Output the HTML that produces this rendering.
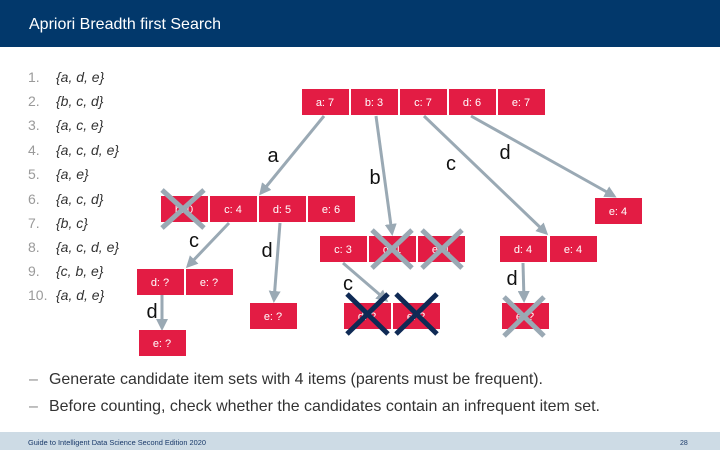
<!DOCTYPE html>
<html><head><meta charset="utf-8"><style>
body{margin:0;width:720px;height:450px;overflow:hidden;background:#fff;font-family:"Liberation Sans",sans-serif}
</style></head><body>
<svg width="720" height="450" viewBox="0 0 720 450" xmlns="http://www.w3.org/2000/svg" font-family="Liberation Sans, sans-serif">
<rect x="0" y="0" width="720" height="47" fill="#02386b"/>
<text x="29" y="29" fill="#fff" font-size="16">Apriori Breadth first Search</text>
<g font-size="14" fill="#9a9a9a">
<text x="28" y="82">1.</text><text x="28" y="106">2.</text><text x="28" y="130">3.</text><text x="28" y="155">4.</text><text x="28" y="179">5.</text><text x="28" y="204">6.</text><text x="28" y="228">7.</text><text x="28" y="252">8.</text><text x="28" y="276">9.</text><text x="28" y="300">10.</text>
</g>
<g font-size="14" fill="#333" font-style="italic">
<text x="56" y="82">{a, d, e}</text><text x="56" y="106">{b, c, d}</text><text x="56" y="130">{a, c, e}</text><text x="56" y="155">{a, c, d, e}</text><text x="56" y="179">{a, e}</text><text x="56" y="204">{a, c, d}</text><text x="56" y="228">{b, c}</text><text x="56" y="252">{a, c, d, e}</text><text x="56" y="276">{c, b, e}</text><text x="56" y="300">{a, d, e}</text>
</g>
<defs><marker id="ar" markerWidth="4" markerHeight="4" refX="3" refY="2" orient="auto"><path d="M0,0 L4,2 L0,4 z" fill="#9aa9b4"/></marker></defs>
<g stroke="#9aa9b4" stroke-width="3" marker-end="url(#ar)">
<line x1="324" y1="116" x2="261" y2="193"/>
<line x1="376" y1="116" x2="392" y2="233"/>
<line x1="424" y1="116" x2="546" y2="233"/>
<line x1="471" y1="116" x2="614" y2="196"/>
<line x1="229" y1="223" x2="188" y2="266"/>
<line x1="280" y1="223" x2="274" y2="300"/>
<line x1="343" y1="263" x2="386" y2="300"/>
<line x1="523" y1="263" x2="524" y2="300"/>
<line x1="162" y1="295" x2="162" y2="328"/>
</g>
<g fill="#e31c44">
<rect x="302" y="89" width="47" height="26"/><rect x="351" y="89" width="47" height="26"/><rect x="400" y="89" width="47" height="26"/><rect x="449" y="89" width="47" height="26"/><rect x="498" y="89" width="47" height="26"/>
<rect x="161" y="196" width="47" height="26"/><rect x="210" y="196" width="47" height="26"/><rect x="259" y="196" width="47" height="26"/><rect x="308" y="196" width="47" height="26"/>
<rect x="595" y="198" width="47" height="26"/>
<rect x="320" y="236" width="47" height="26"/><rect x="369" y="236" width="47" height="26"/><rect x="418" y="236" width="47" height="26"/>
<rect x="500" y="236" width="47" height="26"/><rect x="550" y="236" width="47" height="26"/>
<rect x="137" y="269" width="47" height="26"/><rect x="186" y="269" width="47" height="26"/>
<rect x="250" y="303" width="47" height="26"/>
<rect x="344" y="303" width="47" height="26"/><rect x="393" y="303" width="47" height="26"/>
<rect x="502" y="303" width="47" height="26"/>
<rect x="139" y="330" width="47" height="26"/>
</g>
<g fill="#fff" font-size="11" text-anchor="middle">
<text x="325" y="106">a: 7</text><text x="374" y="106">b: 3</text><text x="423" y="106">c: 7</text><text x="472" y="106">d: 6</text><text x="521" y="106">e: 7</text>
<text x="184" y="213">b: 0</text><text x="233" y="213">c: 4</text><text x="282" y="213">d: 5</text><text x="331" y="213">e: 6</text>
<text x="618" y="215">e: 4</text>
<text x="343" y="253">c: 3</text><text x="392" y="253">d: 1</text><text x="441" y="253">e: 1</text>
<text x="523" y="253">d: 4</text><text x="573" y="253">e: 4</text>
<text x="160" y="286">d: ?</text><text x="209" y="286">e: ?</text>
<text x="273" y="320">e: ?</text>
<text x="367" y="320">d: ?</text><text x="416" y="320">e: ?</text>
<text x="525" y="320">e: ?</text>
<text x="162" y="347">e: ?</text>
</g>
<g stroke="#9aa9b4" stroke-width="5">
<path d="M162,190 L204,228 M204,190 L162,228"/>
<path d="M372,230 L412,268 M412,230 L372,268"/>
<path d="M422,230 L462,268 M462,230 L422,268"/>
<path d="M504,297 L544,336 M544,297 L504,336"/>
</g>
<g stroke="#0f2a55" stroke-width="5">
<path d="M347,294 L388,334 M388,294 L347,334"/>
<path d="M396,294 L437,334 M437,294 L396,334"/>
</g>
<g font-size="20" fill="#111" text-anchor="middle">
<text x="273" y="162">a</text><text x="375" y="184">b</text><text x="451" y="170">c</text><text x="505" y="159">d</text>
<text x="194" y="247">c</text><text x="267" y="257">d</text><text x="348" y="290">c</text><text x="512" y="285">d</text><text x="152" y="318">d</text>
</g>
<g font-size="16" fill="#333">
<text x="29" y="384" fill="#888">–</text><text x="49" y="384" textLength="494" lengthAdjust="spacingAndGlyphs">Generate candidate item sets with 4 items (parents must be frequent).</text>
<text x="29" y="411" fill="#888">–</text><text x="49" y="411" textLength="551" lengthAdjust="spacingAndGlyphs">Before counting, check whether the candidates contain an infrequent item set.</text>
</g>
<rect x="0" y="432" width="720" height="18" fill="#cddbe5"/>
<text x="28" y="445" font-size="7" fill="#1a3a6a" textLength="178" lengthAdjust="spacingAndGlyphs">Guide to Intelligent Data Science Second Edition 2020</text>
<text x="680" y="445" font-size="7" fill="#1a3a6a">28</text>
</svg>
</body></html>
